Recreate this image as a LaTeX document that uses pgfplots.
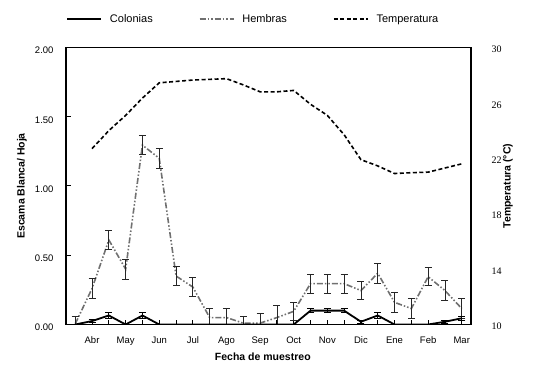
\documentclass[border=0pt]{standalone}
\usepackage{fontspec}
\setmainfont{Liberation Sans}
\newfontfamily\serifnum{Liberation Serif}
\usepackage{pgfplots}
\usepackage{pgfplotstable}
\pgfplotsset{compat=1.18}
\definecolor{hemgray}{RGB}{112,112,112}
\pgfplotstableread{
x hem hemerr col colerr
0 0.005 0.055 0.000 0.000
1 0.26 0.072 0.025 0.010
2 0.61 0.070 0.065 0.020
3 0.40 0.072 0.000 0.000
4 1.295 0.068 0.065 0.020
5 1.20 0.070 0.000 0.000
6 0.35 0.068 0.000 0.000
7 0.27 0.070 0.000 0.000
8 0.05 0.068 0.000 0.000
9 0.05 0.068 0.000 0.000
10 0.01 0.050 0.000 0.000
11 0.01 0.070 0.000 0.000
12 0.05 0.085 0.000 0.000
13 0.095 0.068 0.000 0.000
14 0.295 0.070 0.100 0.015
15 0.295 0.070 0.100 0.015
16 0.295 0.070 0.100 0.015
17 0.245 0.067 0.020 0.010
18 0.37 0.070 0.065 0.020
19 0.16 0.070 0.000 0.000
20 0.115 0.070 0.000 0.000
21 0.345 0.066 0.000 0.000
22 0.245 0.070 0.020 0.010
23 0.115 0.070 0.045 0.015
}\datatab
\pgfplotstableread{
x temp
1 22.7
2 24.0
3 25.1
4 26.35
5 27.45
6 27.55
7 27.65
8 27.7
9 27.75
10 27.3
11 26.8
12 26.8
13 26.9
14 25.9
15 25.1
16 23.7
17 21.9
18 21.45
19 20.9
20 20.96
21 21.0
22 21.3
23 21.6
}\temptab
\begin{document}
\begin{tikzpicture}
\useasboundingbox (0,0) rectangle (542bp,376bp);
\begin{axis}[
  at={(66bp,51.5bp)}, anchor=south west, scale only axis,
  width=405bp, height=277bp,
  xmin=-0.55, xmax=23.55, ymin=0, ymax=2,
  xtick={0,...,23},
  xticklabels={,Abr,,May,,Jun,,Jul,,Ago,,Sep,,Oct,,Nov,,Dic,,Ene,,Feb,,Mar},
  ytick={0,0.5,1,1.5,2},
  yticklabel style={/pgf/number format/fixed, /pgf/number format/fixed zerofill, /pgf/number format/precision=2, /pgf/number format/assume math mode=true, xshift=-9bp, yshift=-3bp},
  tick align=inside,
  major tick length=4.5bp,
  tick style={black, line width=1bp},
  ytick pos=left, xtick pos=bottom,
  axis line style={line width=1.3bp},
  tick label style={font=\fontsize{9.5bp}{11bp}\selectfont},
  xticklabel style={yshift=-8.5bp},
  xlabel={Fecha de muestreo},
  ylabel={Escama Blanca/ Hoja},
  label style={font=\fontsize{10.5bp}{12bp}\selectfont\bfseries},
  xlabel style={at={(axis description cs:0.486,-0.117)}, anchor=center},
  ylabel style={at={(axis description cs:-0.1086,0.5)}, anchor=center},
]
\addplot[hemgray, line width=1.6bp, dash pattern=on 6bp off 2bp on 1.5bp off 2bp on 1.5bp off 2bp,
  error bars/.cd, y dir=both, y explicit,
  error bar style={solid, black!85, line width=0.8bp},
  error mark options={solid, black!85, line width=0.8bp, mark size=3.5bp, rotate=90}]
  table[x=x, y=hem, y error=hemerr]{\datatab};
\addplot[black, line width=1.8bp,
  error bars/.cd, y dir=both, y explicit,
  error bar style={solid, black, line width=0.8bp},
  error mark options={solid, black, line width=0.8bp, mark size=3.5bp, rotate=90}]
  table[x=x, y=col, y error=colerr]{\datatab};
\end{axis}
\begin{axis}[
  at={(66bp,51.5bp)}, anchor=south west, scale only axis,
  width=405bp, height=277bp,
  xmin=-0.55, xmax=23.55, ymin=10, ymax=30,
  axis x line=none, axis y line*=right,
  axis line style={line width=1.3bp},
  ytick={10,14,18,22,26,30},
  major tick length=0pt,
  yticklabel style={font=\fontsize{10bp}{12bp}\serifnum, xshift=17bp, yshift=-2bp, /pgf/number format/assume math mode=true},
  ylabel={Temperatura (°C)},
  ylabel style={font=\fontsize{10.5bp}{12bp}\selectfont\bfseries, at={(axis description cs:1.091,0.5)}, anchor=center},
  legend columns=3,
  legend style={draw=none, fill=none, inner sep=0pt,
    at={(axis description cs:0,1.103)}, anchor=west,
    font=\fontsize{11bp}{13bp}\selectfont,
    /tikz/every odd column/.append style={column sep=6bp},
    /tikz/every even column/.append style={column sep=44bp}},
  legend image code/.code={\draw[#1] (0bp,0bp) -- (34bp,0bp);},
]
\addlegendimage{black, line width=1.8bp}
\addlegendentry{Colonias}
\addlegendimage{hemgray, line width=1.6bp, dash pattern=on 6bp off 2bp on 1.5bp off 2bp on 1.5bp off 2bp}
\addlegendentry{Hembras}
\addplot[black, line width=1.6bp, dash pattern=on 4bp off 2.5bp] table[x=x, y=temp]{\temptab};
\addlegendentry{Temperatura}
\end{axis}
\end{tikzpicture}
\end{document}
